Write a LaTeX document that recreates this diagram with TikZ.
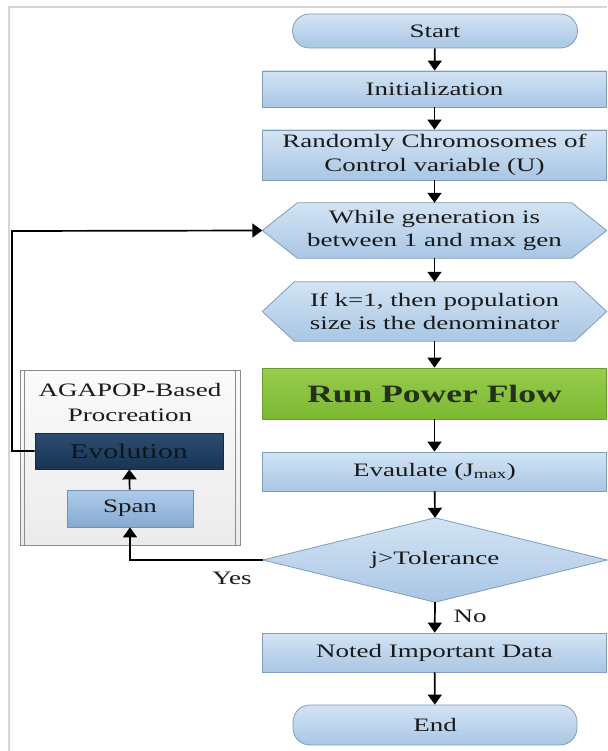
\documentclass[tikz,border=0pt]{standalone}
\usepackage{fontspec}
\setmainfont{Liberation Serif}[FakeStretch=1.42]
\usetikzlibrary{arrows.meta,backgrounds}

\definecolor{boxtop}{HTML}{D3E4F4}
\definecolor{boxbot}{HTML}{A9C6E4}
\definecolor{boxline}{HTML}{7F9CBA}
\definecolor{txt}{HTML}{1A1A1A}
\definecolor{greentop}{HTML}{96CD4C}
\definecolor{greenbot}{HTML}{7DB832}
\definecolor{greenline}{HTML}{6A9A30}
\definecolor{greentxt}{HTML}{27301A}
\definecolor{navytop}{HTML}{2B4D72}
\definecolor{navybot}{HTML}{1A3453}
\definecolor{navyline}{HTML}{162A40}
\definecolor{navytxt}{HTML}{0B1620}
\definecolor{spantop}{HTML}{AECBEA}
\definecolor{spanbot}{HTML}{86AAD2}
\definecolor{spanline}{HTML}{6F91B6}
\definecolor{grouptop}{HTML}{FBFBFB}
\definecolor{groupbot}{HTML}{EBEBEB}
\definecolor{groupline}{HTML}{8C8C8C}
\definecolor{framegray}{HTML}{D6D6D6}

\begin{document}
\begin{tikzpicture}[x=1pt,y=-1pt,
  base/.style={inner sep=0pt, align=center, text=txt,
    font=\fontsize{19}{23.5}\selectfont},
  blk/.style={base, rectangle, draw=boxline, line width=0.8pt,
    top color=boxtop, bottom color=boxbot},
  term/.style={blk, rounded corners=17pt},
  holder/.style={base, rectangle},
  hexa/.style={draw=boxline, line width=0.8pt, top color=boxtop, bottom color=boxbot},
  arr/.style={line width=1.7pt, draw=black, -{Triangle[length=10pt,width=14pt]}}]

\useasboundingbox (0,0) rectangle (607,751);

% page frame
\draw[framegray, line width=1.5pt] (9,751) -- (9,7) -- (607,7);

% main column
\node[term, minimum width=285pt, minimum height=34pt] (start) at (435,31) {Start};
\node[blk, minimum width=344pt, minimum height=36pt] (init) at (434.5,89) {Initialization};
\node[blk, minimum width=344pt, minimum height=50pt] (rand) at (434.5,155)
  {Randomly Chromosomes of\\Control variable (U)};
\node[holder, minimum width=344pt, minimum height=55pt] (wh) at (434.5,230.5)
  {While generation is\\between 1 and max gen};
\node[holder, minimum width=344pt, minimum height=59pt] (ifk) at (434.5,311.5)
  {If k=1, then population\\size is the denominator};
\node[base, rectangle, draw=greenline, line width=0.8pt, top color=greentop,
  bottom color=greenbot, text=greentxt, minimum width=344pt, minimum height=51pt,
  font=\fontsize{25}{28}\selectfont\bfseries] (rpf) at (434.5,393.5) {Run Power Flow};
\node[blk, minimum width=344pt, minimum height=39pt] (eval) at (434.5,471.5)
  {Evaulate (J\textsubscript{max})};
\node[holder, minimum width=344pt, minimum height=84pt] (tol) at (435,560) {j>Tolerance};
\node[blk, minimum width=344pt, minimum height=39pt] (noted) at (434.5,652.5)
  {Noted Important Data};
\node[term, minimum width=284pt, minimum height=40pt] (end) at (435,725) {End};

% hexagons and decision diamond behind their texts
\begin{scope}[on background layer]
  \path[hexa] ([xshift=35pt]wh.north west) -- ([xshift=-35pt]wh.north east) -- (wh.east)
    -- ([xshift=-35pt]wh.south east) -- ([xshift=35pt]wh.south west) -- (wh.west) -- cycle;
  \path[hexa] ([xshift=32pt]ifk.north west) -- ([xshift=-32pt]ifk.north east) -- (ifk.east)
    -- ([xshift=-32pt]ifk.south east) -- ([xshift=32pt]ifk.south west) -- (ifk.west) -- cycle;
  \path[hexa] (tol.north) -- (tol.east) -- (tol.south) -- (tol.west) -- cycle;
\end{scope}

% procreation group
\node[rectangle, draw=groupline, line width=0.8pt, top color=grouptop, bottom color=groupbot,
  minimum width=220pt, minimum height=175pt, inner sep=0pt] (grp) at (130,457.5) {};
\draw[groupline, line width=0.8pt] ([xshift=5pt]grp.north west) -- ([xshift=5pt]grp.south west);
\draw[groupline, line width=0.8pt] ([xshift=-5pt]grp.north east) -- ([xshift=-5pt]grp.south east);
\node[base, font=\fontsize{19}{25}\selectfont] (grpt) at (130,402) {AGAPOP-Based\\Procreation};
\node[base, rectangle, draw=navyline, line width=0.8pt, top color=navytop, bottom color=navybot,
  text=navytxt, minimum width=188pt, minimum height=36pt,
  font=\fontsize{21}{24}\selectfont] (evo) at (129,451) {Evolution};
\node[base, rectangle, draw=spanline, line width=0.8pt, top color=spantop, bottom color=spanbot,
  minimum width=126pt, minimum height=37pt] (span) at (130,508.5) {Span};

% connectors
\draw[arr] (start) -- (init);
\draw[arr] (init) -- (rand);
\draw[arr] (rand) -- (wh);
\draw[arr] (wh) -- (ifk);
\draw[arr] (ifk) -- (rpf);
\draw[arr] (rpf) -- (eval);
\draw[arr] (eval) -- (tol.north);
\draw[arr] (tol.south) -- (noted);
\draw[arr] (noted) -- (end);
\draw[arr] (span) -- (evo);

\coordinate (yescorner) at (130,560);
\draw[arr] (tol.west) -- (yescorner) -- (span.south);

\coordinate (fb1) at (12,451);
\coordinate (fb2) at (12,231);
\draw[arr] (evo.west) -- (fb1) -- (fb2) -- (wh.west);

% branch labels
\node[base] (yes) at (232,578) {Yes};
\node[base] (no) at (470,616) {No};
\end{tikzpicture}
\end{document}
